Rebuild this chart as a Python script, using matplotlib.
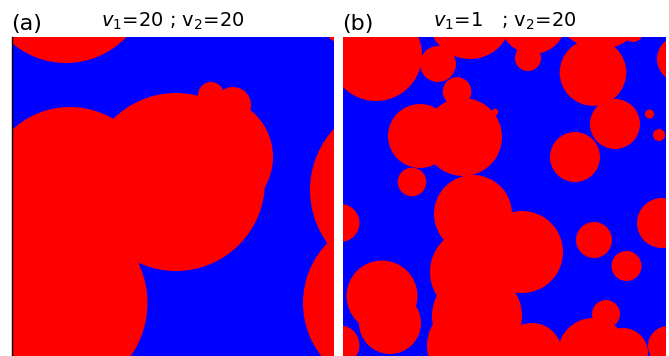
import matplotlib
matplotlib.use('Agg')
import matplotlib.pyplot as plt
from matplotlib.patches import Circle

# circle centres and radii, in pixel units of each panel (y grows downwards)
a_x = [66, 176, 213, 211, 233, 70, 55, 400, 389, 355]
a_y = [-20, 182, 157, 95, 105, 192, 303, 190, 303, 10]
a_r = [83, 89, 60, 13, 18, 85, 92.5, 90, 86, 38]

b_x = [376, 438, 470, 528, 533, 593, 600, 633, 680, 615, 649.5, 659, 575,
       420, 463, 457, 495, 412, 340.5, 473, 522, 474, 594, 626.5, 662,
       382, 390, 340, 477, 470, 532, 606, 593, 623, 668]
b_y = [55, 64, 17.5, 58, 21, 72.5, 1, 32, 59, 124, 114, 135, 157,
       136, 137, 91.5, 112, 182, 223, 214, 252, 272, 240, 266, 223,
       296, 323, 345, 316, 346, 353, 314, 353, 353, 346]
b_r = [46, 18, 41.5, 13, 33, 33.3, 48, 10, 23, 25, 4.5, 6, 25,
       32, 39, 14.3, 3.3, 14.3, 19, 39, 41, 44, 18, 15, 25,
       35.5, 31, 19.5, 45, 43, 30, 14, 35, 25, 20]

panels = [
    ('(a)', r'$v_1$=20 ; v$_2$=20', (12, 334), a_x, a_y, a_r),
    ('(b)', r'$v_1$=1   ; v$_2$=20', (343, 666), b_x, b_y, b_r),
]

W, H = 669, 356
top, bottom = 37, 356

fig = plt.figure(figsize=(W / 100, H / 100), dpi=100)

for i, (tag, title, (x0, x1), xs, ys, rs) in enumerate(panels):
    ax = fig.add_axes([x0 / W, (H - bottom) / H, (x1 - x0) / W, (bottom - top) / H])
    ax.set_facecolor('#0000ff')
    ax.set_xlim(x0, x1)
    ax.set_ylim(bottom, top)
    for cx, cy, r in zip(xs, ys, rs):
        ax.add_patch(Circle((cx, cy), r, facecolor='#ff0000', edgecolor='none'))
    ax.set_xticks([])
    ax.set_yticks([])
    for side in ['top', 'right', 'bottom']:
        ax.spines[side].set_visible(False)
    if i == 0:
        ax.spines['left'].set_linewidth(1.0)
        ax.spines['left'].set_color('black')
    else:
        ax.spines['left'].set_visible(False)

    fig.text((x0 - 1) / W, 1 - 30 / H, tag, fontsize=16, ha='left', va='baseline')
    fig.text((x0 + x1) / 2 / W, 1 - 27 / H, title, fontsize=14,
             ha='center', va='baseline')

fig.savefig('out.png', dpi=100)
